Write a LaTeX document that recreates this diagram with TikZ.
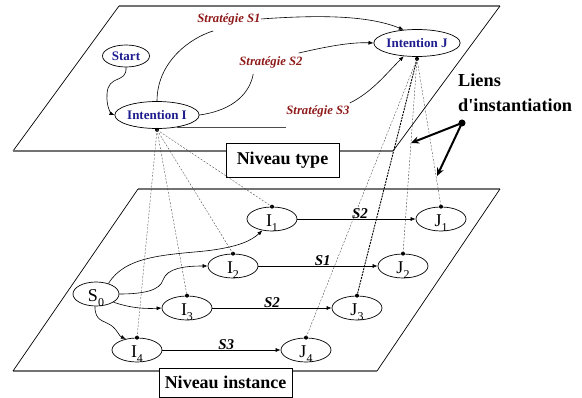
\documentclass[tikz,border=0pt]{standalone}
\usepackage{fontspec}
\setmainfont{Liberation Serif}
\usetikzlibrary{shapes.geometric,arrows.meta,calc}
\definecolor{nblue}{HTML}{1C1C8E}
\definecolor{sred}{HTML}{8E1A1A}
\tikzset{
  ell/.style={ellipse,draw,line width=0.7pt,inner sep=0pt,fill=white},
  typeell/.style={ell,text=nblue,font=\fontsize{13}{14}\selectfont\bfseries},
  instell/.style={ell,minimum width=50pt,minimum height=24pt,font=\fontsize{18}{18}\selectfont,text height=15pt,text depth=0pt},
  strat/.style={text=sred,font=\fontsize{12.7}{13}\selectfont\bfseries\itshape,inner sep=0pt},
  slab/.style={font=\fontsize{15}{15}\selectfont\bfseries\itshape,inner sep=0.3pt},
  arr/.style={line width=0.6pt,-{Latex[length=5pt,width=4pt]}},
  plainln/.style={line width=0.6pt},
  grayedge/.style={line width=1.6pt,draw=black!55},
  sideedge/.style={line width=0.7pt},
  lvlbox/.style={draw,line width=0.9pt,fill=white,font=\fontsize{18}{19}\selectfont\bfseries,inner sep=0pt},
  inst/.style={line width=0.35pt,draw=black!75,dash pattern=on 2pt off 1.5pt},
  instdark/.style={line width=0.9pt,dash pattern=on 2pt off 1pt},
  dot/.style={circle,fill=black,inner sep=0pt,minimum size=4pt},
  thickarr/.style={line width=2pt,-{Stealth[length=8pt,width=7pt]}},
  bigtxt/.style={font=\fontsize{18.3}{19}\selectfont\bfseries,anchor=west,inner sep=0pt}
}
\newcommand{\isub}[2]{#1\raisebox{-0.3em}{\fontsize{12}{12}\selectfont #2}}
\begin{document}
\begin{tikzpicture}[x=1pt,y=-1pt]
\useasboundingbox (0,0) rectangle (582,398);
% ---- top plane ----
\coordinate (ta) at (119,6);
\coordinate (tb) at (500,6);
\coordinate (tc) at (393,151);
\coordinate (td) at (13,151);
\draw[grayedge] (tb) -- (ta);
\draw[sideedge] (ta) -- (td);
\draw[grayedge] (td) -- (tc);
\draw[sideedge] (tc) -- (tb);
\node[lvlbox,minimum width=113pt,minimum height=34pt] (ntype) at (282.5,160) {Niveau type};
% ---- bottom plane ----
\coordinate (ba) at (138,189);
\coordinate (bb) at (500,189);
\coordinate (bc) at (377,371);
\coordinate (bd) at (13,371);
\draw[grayedge] (ba) -- (bb);
\draw[sideedge] (bb) -- (bc);
\draw[grayedge] (bc) -- (bd);
\draw[sideedge] (bd) -- (ba);
\node[lvlbox,minimum width=133pt,minimum height=29pt] (ninst) at (225.5,382.5) {Niveau instance};
% ---- type-level nodes ----
\node[typeell,minimum width=47pt,minimum height=22pt] (start) at (126,56) {Start};
\node[typeell,minimum width=77pt,minimum height=27pt] (ii) at (157,115) {Intention I};
\node[typeell,minimum width=81pt,minimum height=27pt] (ij) at (417,43) {Intention J};
\node[strat] (s1) at (229,19) {Stratégie S1};
\node[strat] (s2) at (271,62) {Stratégie S2};
\node[strat] (s3) at (318,111) {Stratégie S3};
% type-level edges
\draw[arr] (start.south) .. controls (127,84) and (108,74) .. (107,94) .. controls (106,108) and (112,114) .. (ii.west);
\draw[plainln] (ii.north) .. controls (157,62) and (190,38) .. ($(s1.south west)+(16,6)$);
\draw[arr] (s1.east) .. controls (330,14) and (372,17) .. (ij.135);
\draw[plainln] (ii.east) .. controls (235,110) and (250,92) .. ($(s2.south west)+(14,6)$);
\draw[arr] ($(s2.east)+(-4,-9)$) .. controls (325,47) and (350,42) .. (ij.west);
\draw[plainln,draw=black!70] (ii.-32) -- (ii.-32 -| s3.south west);
\draw[arr] ($(s3.north east)+(0,-2)$) .. controls (372,92) and (385,75) .. (ij.-135);
% ---- instance-level nodes ----
\node[instell,minimum width=46pt] (s0) at (96,294) {\isub{S}{0}};
\node[instell] (i1) at (272,219) {\isub{I}{1}};
\node[instell] (i2) at (233,266) {\isub{I}{2}};
\node[instell] (i3) at (187,308) {\isub{I}{3}};
\node[instell] (i4) at (137,350) {\isub{I}{4}};
\node[instell] (j1) at (441,219) {\isub{J}{1}};
\node[instell] (j2) at (403,266) {\isub{J}{2}};
\node[instell] (j3) at (357,308) {\isub{J}{3}};
\node[instell] (j4) at (306,350) {\isub{J}{4}};
% instance edges
\draw[arr] (i1.east) -- node[slab,above,pos=0.53] {S2} (j1.west);
\draw[arr] (i2.east) -- node[slab,above,pos=0.54] {S1} (j2.west);
\draw[arr] (i3.east) -- node[slab,above,pos=0.5] {S2} (j3.west);
\draw[arr] (i4.east) -- node[slab,above,pos=0.54] {S3} (j4.west);
\draw[arr] (s0.40) .. controls (125,256) and (165,255) .. (205,251) .. controls (240,247) and (252,240) .. (i1.-130);
\draw[arr] (s0.east) .. controls (145,294) and (160,290) .. (163,280) .. controls (167,268) and (185,266) .. (i2.west);
\draw[arr] (s0.-25) .. controls (130,308) and (145,309) .. (i3.west);
\draw[arr] (s0.-95) .. controls (95,322) and (104,320) .. (112,326) .. controls (118,331) and (119,336) .. (i4.135);
% ---- instantiation dots and dashed links ----
\node[dot] (iid) at ($(ii.south)+(0,1)$) {};
\node[dot] (ijd) at ($(ij.south)+(0,2)$) {};
\node[dot] (i1d) at (i1.north) {};
\node[dot] (i2d) at (i2.north) {};
\node[dot] (i3d) at (i3.north) {};
\node[dot] (i4d) at (i4.north) {};
\node[dot] (j1d) at (j1.north) {};
\node[dot] (j2d) at (j2.north) {};
\node[dot] (j3d) at (j3.north) {};
\node[dot] (j4d) at (j4.north) {};
\draw[inst] (iid.center) -- (i1d.center);
\draw[inst] (iid.center) -- (i2d.center);
\draw[inst] (iid.center) -- (i3d.center);
\draw[inst] (iid.center) -- (i4d.center);
\draw[inst] (ijd.center) -- (j1d.center);
\draw[inst] (ijd.center) -- (j2d.center);
\draw[instdark] (ijd.center) -- (j3d.center);
\draw[inst] (ijd.center) -- (j4d.center);
% ---- Liens d'instantiation ----
\node[bigtxt] (liens) at (458,80) {Liens};
\node[bigtxt] (dinst) at (458,105) {d\textquotesingle instantiation};
\node[dot,minimum size=7pt] (ld) at (462,123) {};
\coordinate (la1) at (411,143);
\coordinate (la2) at (437,176);
\draw[thickarr] (ld.center) -- (la1);
\draw[thickarr] (ld.center) -- (la2);
\end{tikzpicture}
\end{document}
